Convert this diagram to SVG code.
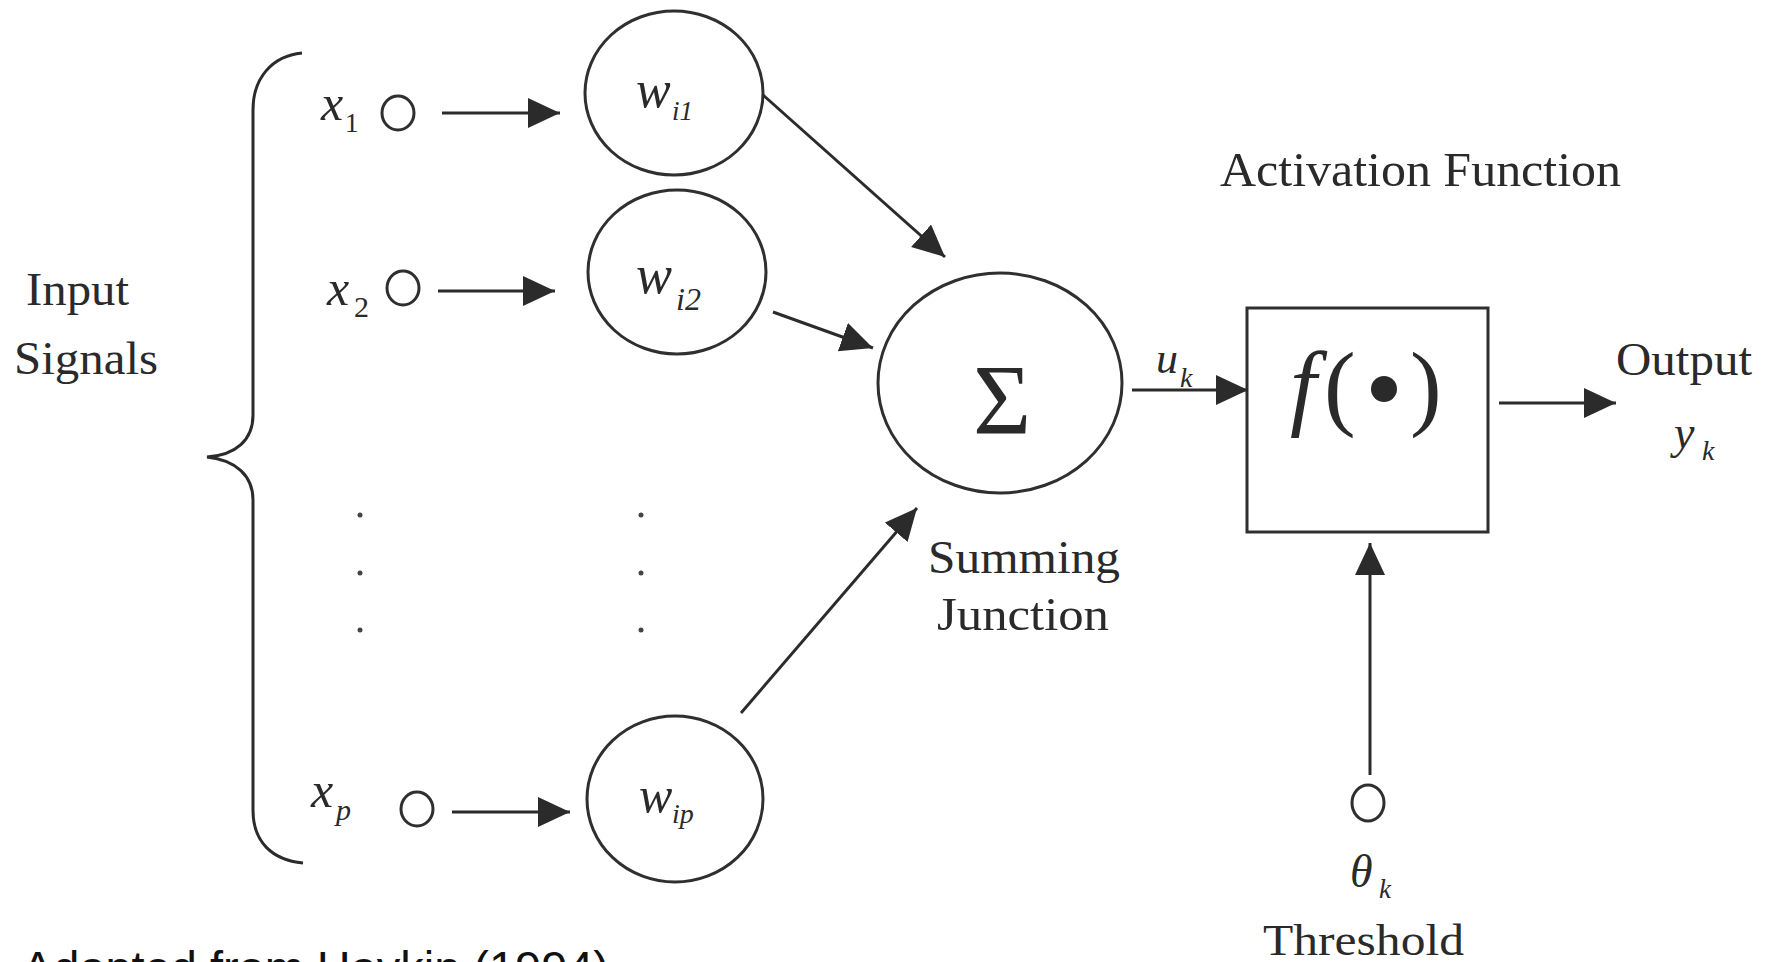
<svg xmlns="http://www.w3.org/2000/svg" width="1771" height="962" viewBox="0 0 1771 962">
<style>
.ln{stroke:#2b2b2b;stroke-width:3;fill:none}
.nd{stroke:#2f2f2f;stroke-width:3;fill:#fff}
.sm{stroke:#2f2f2f;stroke-width:3;fill:none}
.t{font-family:"Liberation Serif","Times New Roman",serif;fill:#2a2a2a}
.i{font-style:italic}
.dot{fill:#444}
</style>
<defs>
<marker id="ah" markerUnits="userSpaceOnUse" markerWidth="34" markerHeight="32" refX="32" refY="15" orient="auto">
<path d="M0,0 L32,15 L0,30 z" fill="#2b2b2b"/>
</marker>
</defs>
<rect width="1771" height="962" fill="#fff"/>

<g id="bracket">
<path class="ln" d="M302 53 C272 56 253 78 253 110 L253 415 C253 440 236 455 207 457 C236 460 253 476 253 500 L253 810 C253 842 272 860 303 863"/>
</g>

<g id="label-input">
<text class="t" x="26" y="305" font-size="46" textLength="103" lengthAdjust="spacingAndGlyphs">Input</text>
<text class="t" x="14" y="374" font-size="46" textLength="144" lengthAdjust="spacingAndGlyphs">Signals</text>
</g>

<g id="x1">
<text class="t i" x="321" y="120" font-size="50">x</text>
<text class="t" x="345" y="132" font-size="27">1</text>
<ellipse class="sm" cx="398" cy="113" rx="16" ry="17"/>
</g>
<g id="x2">
<text class="t i" x="327" y="305" font-size="50">x</text>
<text class="t" x="354" y="317" font-size="30">2</text>
<ellipse class="sm" cx="403" cy="288" rx="16" ry="17"/>
</g>
<g id="xp">
<text class="t i" x="311" y="807" font-size="50">x</text>
<text class="t i" x="336" y="820" font-size="30">p</text>
<ellipse class="sm" cx="417" cy="809" rx="16" ry="17"/>
</g>

<g id="dots">
<circle class="dot" cx="360" cy="515" r="2.5"/>
<circle class="dot" cx="360" cy="573" r="2.5"/>
<circle class="dot" cx="360" cy="630" r="2.5"/>
<circle class="dot" cx="641" cy="515" r="2.5"/>
<circle class="dot" cx="641" cy="573" r="2.5"/>
<circle class="dot" cx="641" cy="630" r="2.5"/>
</g>

<g id="wi1">
<ellipse class="nd" cx="674" cy="93" rx="89" ry="82"/>
<text class="t i" x="636" y="107" font-size="52">w</text>
<text class="t i" x="672" y="120" font-size="27">i1</text>
</g>
<g id="wi2">
<ellipse class="nd" cx="677" cy="272" rx="89" ry="82"/>
<text class="t i" x="636" y="293" font-size="54">w</text>
<text class="t i" x="676" y="310" font-size="32">i2</text>
</g>
<g id="wip">
<ellipse class="nd" cx="675" cy="799" rx="88" ry="83"/>
<text class="t i" x="639" y="812" font-size="50">w</text>
<text class="t i" x="672" y="823" font-size="28">ip</text>
</g>

<g id="sum">
<ellipse class="nd" cx="1000" cy="383" rx="122" ry="110"/>
<text class="t" x="1002" y="433" font-size="100" text-anchor="middle">Σ</text>
</g>
<g id="sum-label">
<text class="t" x="928" y="573" font-size="46" textLength="192" lengthAdjust="spacingAndGlyphs">Summing</text>
<text class="t" x="937" y="630" font-size="46" textLength="172" lengthAdjust="spacingAndGlyphs">Junction</text>
</g>

<g id="activation">
<rect class="nd" x="1247" y="308" width="241" height="224"/>
<text class="t i" x="1290" y="418" font-size="95">f</text>
<text class="t" x="1324" y="418" font-size="95">(</text>
<circle cx="1384" cy="389" r="13" fill="#2a2a2a"/>
<text class="t" x="1410" y="418" font-size="95">)</text>
</g>
<g id="activation-label">
<text class="t" x="1220" y="186" font-size="48" textLength="401" lengthAdjust="spacingAndGlyphs">Activation Function</text>
</g>

<g id="uk">
<text class="t i" x="1156" y="373" font-size="44">u</text>
<text class="t i" x="1180" y="387" font-size="28">k</text>
</g>

<g id="output">
<text class="t" x="1616" y="375" font-size="46" textLength="136" lengthAdjust="spacingAndGlyphs">Output</text>
<text class="t i" x="1674" y="448" font-size="46">y</text>
<text class="t i" x="1702" y="460" font-size="28">k</text>
</g>

<g id="threshold">
<ellipse class="sm" cx="1368" cy="803" rx="16" ry="18"/>
<text class="t i" x="1350" y="887" font-size="46">θ</text>
<text class="t i" x="1379" y="898" font-size="27">k</text>
<text class="t" x="1263" y="955" font-size="45" textLength="201" lengthAdjust="spacingAndGlyphs">Threshold</text>
</g>

<g id="connectors">
<line class="ln" x1="442" y1="113" x2="560" y2="113" marker-end="url(#ah)"/>
<line class="ln" x1="438" y1="291" x2="555" y2="291" marker-end="url(#ah)"/>
<line class="ln" x1="452" y1="812" x2="570" y2="812" marker-end="url(#ah)"/>
<line class="ln" x1="763" y1="95" x2="945" y2="257" marker-end="url(#ah)"/>
<line class="ln" x1="773" y1="312" x2="873" y2="348" marker-end="url(#ah)"/>
<line class="ln" x1="741" y1="713" x2="917" y2="508" marker-end="url(#ah)"/>
<line class="ln" x1="1132" y1="390" x2="1248" y2="390" marker-end="url(#ah)"/>
<line class="ln" x1="1499" y1="403" x2="1616" y2="403" marker-end="url(#ah)"/>
<line class="ln" x1="1370" y1="775" x2="1370" y2="543" marker-end="url(#ah)"/>
</g>

<text x="22" y="984" font-family="'Liberation Sans',Arial,sans-serif" font-size="47" fill="#111" textLength="587" lengthAdjust="spacingAndGlyphs">Adapted from Haykin (1994)</text>
</svg>
